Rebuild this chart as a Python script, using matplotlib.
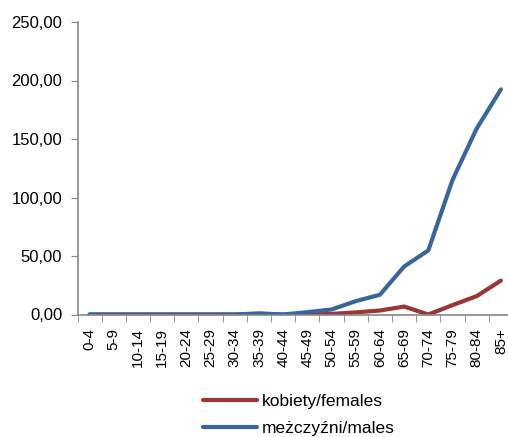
import matplotlib
matplotlib.use("Agg")
import matplotlib.pyplot as plt
import numpy as np
from matplotlib.ticker import FuncFormatter, FixedLocator

age_groups = ["0-4", "5-9", "10-14", "15-19", "20-24", "25-29", "30-34",
              "35-39", "40-44", "45-49", "50-54", "55-59", "60-64",
              "65-69", "70-74", "75-79", "80-84", "85+"]
females = [0, 0, 0, 0, 0, 0, 0, 0, 0, 0, 0.5, 1.8, 3.4, 6.8, 0, 8.0, 15.7, 29.0]
males = [0, 0, 0, 0, 0, 0, 0, 1.0, 0, 2.0, 4.3, 11.4, 16.9, 41.0, 54.8, 115.0, 159.0, 192.4]

plt.rcParams['font.family'] = ['Liberation Sans', 'DejaVu Sans']

fig = plt.figure(figsize=(5.08, 4.37), dpi=100)
ax = fig.add_axes([77.5 / 508, 1 - 314.5 / 437, (513 - 77.5) / 508, (314.5 - 22) / 437])

x = np.arange(len(age_groups))
red = "#983735"
blue = "#3A659C"
l1, = ax.plot(x, females, color=red, lw=3, solid_capstyle="round",
              solid_joinstyle="round", label="kobiety/females")
l2, = ax.plot(x, males, color=blue, lw=3, solid_capstyle="round",
              solid_joinstyle="round", label="meżczyźni/males")

ax.set_xlim(-0.5, len(age_groups) - 0.5)
ax.set_ylim(0, 250)
ax.set_yticks(np.arange(0, 251, 50))
ax.yaxis.set_major_formatter(FuncFormatter(lambda v, p: f"{v:.2f}".replace(".", ",")))
ax.set_xticks(x)
ax.set_xticklabels(age_groups, rotation=90, fontsize=11)
ax.xaxis.set_minor_locator(FixedLocator(np.arange(-0.5, len(age_groups), 1)))
ax.tick_params(axis="x", which="major", length=0, pad=10)
ax.tick_params(axis="x", which="minor", length=5, color="#868686", direction="out")
ax.tick_params(axis="y", length=5, color="#868686", labelsize=12, pad=6)

for s in ["top", "right"]:
    ax.spines[s].set_visible(False)
for s in ["left", "bottom"]:
    ax.spines[s].set_color("#868686")
    ax.spines[s].set_linewidth(1.2)

fig.legend(handles=[l1, l2], loc="upper left", bbox_to_anchor=(203 / 508, 1 - 394 / 437),
           frameon=False, fontsize=12.5, handlelength=3.1, handletextpad=0.3,
           labelspacing=0.66, borderpad=0, borderaxespad=0)

fig.savefig("out.png", dpi=100)
